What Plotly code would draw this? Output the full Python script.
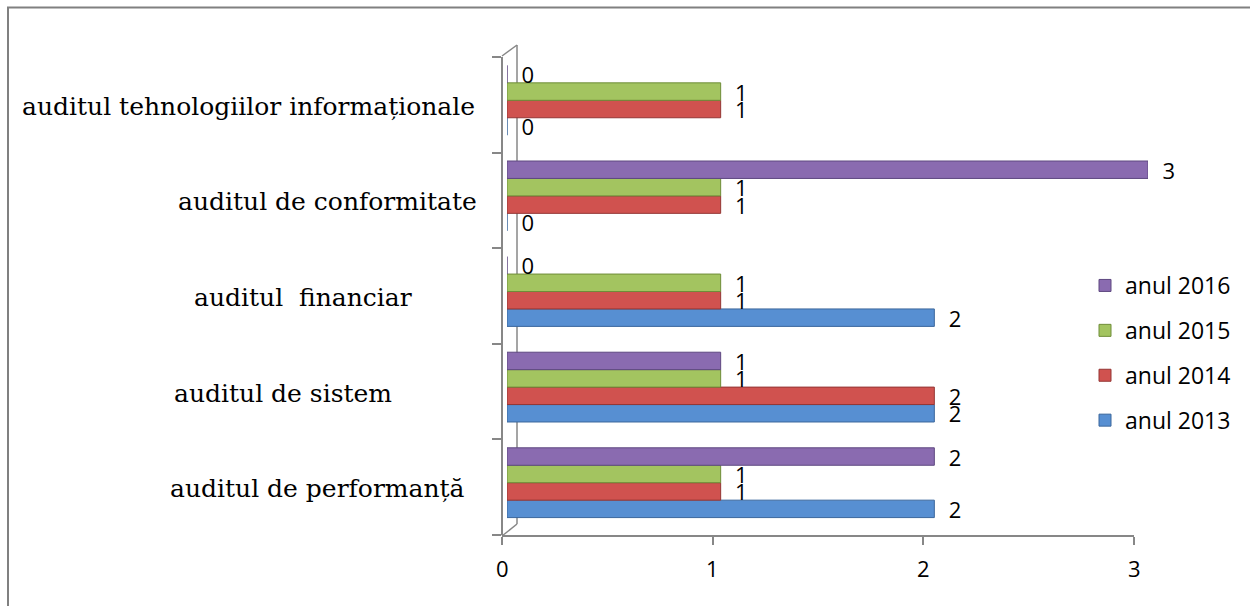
import plotly.graph_objects as go

# Audit missions by type, 2013-2016
categories = [
    "auditul de performanță",
    "auditul de sistem",
    "auditul  financiar",
    "auditul de conformitate",
    "auditul tehnologiilor informaționale",
]
series_names = ["anul 2013", "anul 2014", "anul 2015", "anul 2016"]
values_2013 = [2, 2, 2, 0, 0]
values_2014 = [1, 2, 1, 1, 1]
values_2015 = [1, 1, 1, 1, 1]
values_2016 = [2, 1, 0, 3, 0]
x_ticks = [0, 1, 2, 3]

series_values = [values_2013, values_2014, values_2015, values_2016]
bar_colors = ["#578FD2", "#D0524F", "#A3C460", "#8A6BB0"]
edge_colors = ["#3B679C", "#943634", "#6F8D38", "#5E4880"]

W, H = 1250, 606


def px(x):
    return x / W


def py(y):
    return 1 - y / H


# horizontal centres of the category captions
label_centres = [317, 283, 303, 327, 249]

GRID = "#878787"
TICK_FONT = "Open Sans"
CAT_FONT = "DejaVu Serif"

fig = go.Figure()

for i, (name, vals, col, edge) in enumerate(zip(series_names, series_values,
                                                bar_colors, edge_colors)):
    fig.add_trace(go.Bar(
        y=categories,
        x=vals,
        orientation="h",
        name=name,
        legendgroup=name,
        legendrank=100 - i,
        marker=dict(color=col, line=dict(color=edge, width=1)),
        text=vals,
        texttemplate="\u00a0\u00a0%{x}",
        textposition="outside",
        constraintext="none",
        cliponaxis=False,
        textfont=dict(family=TICK_FONT, size=22, color="#000000"),
        hoverinfo="skip",
    ))

# frame axes (value scale and category boundaries)
fig.add_trace(go.Scatter(x=[None], y=[None], xaxis="x2", yaxis="y2",
                         mode="markers", showlegend=False, hoverinfo="skip"))

fig.update_layout(
    width=W,
    height=H,
    margin=dict(l=0, r=0, t=0, b=0),
    paper_bgcolor="white",
    plot_bgcolor="rgba(0,0,0,0)",
    font=dict(family=TICK_FONT, size=20, color="#000000"),
    barmode="group",
    bargap=0.27,
    bargroupgap=0,
    showlegend=True,
    legend=dict(
        x=px(1085), y=py(264), xanchor="left", yanchor="top",
        traceorder="grouped",
        tracegroupgap=12,
        font=dict(family=TICK_FONT, size=23, color="#000000"),
        bgcolor="rgba(0,0,0,0)",
    ),
    xaxis=dict(
        domain=[px(507), px(1148)], range=[0, 3], visible=False,
        anchor="y", fixedrange=True,
    ),
    yaxis=dict(
        domain=[py(530.5), py(52.5)], range=[-0.5, 4.5], visible=False,
        anchor="x", type="category", fixedrange=True,
    ),
    xaxis2=dict(
        domain=[px(502), px(1134)], range=[0, 3],
        anchor="free", position=py(536),
        tickmode="array", tickvals=x_ticks, showticklabels=False,
        ticks="outside", ticklen=8, tickcolor=GRID, tickwidth=1.5,
        showline=True, linecolor=GRID, linewidth=1.5,
        showgrid=False, zeroline=False,
    ),
    yaxis2=dict(
        domain=[py(535), py(57)], range=[0, 5],
        anchor="free", position=px(502),
        tickmode="array",
        tickvals=[0, 1, 2, 3, 4, 5], showticklabels=False,
        ticks="outside", ticklen=9, tickcolor=GRID, tickwidth=1.5,
        showline=True, linecolor=GRID, linewidth=1.5,
        showgrid=False, zeroline=False,
    ),
)

# value-axis tick labels
for t in x_ticks:
    fig.add_annotation(
        x=t, xref="x2", y=py(568), yref="paper",
        text=str(t), showarrow=False, xanchor="center", yanchor="middle",
        font=dict(family=TICK_FONT, size=22, color="#000000"),
    )

# category captions
for cat, cx in zip(categories, label_centres):
    fig.add_annotation(
        x=px(cx), xref="paper", y=cat, yref="y",
        text=cat.replace("  ", "\u00a0\u00a0"), showarrow=False,
        xanchor="center", yanchor="middle", yshift=-6,
        font=dict(family=CAT_FONT, size=25, color="#000000"),
    )

# side wall of the 3-D plot box
wall = dict(type="line", xref="paper", yref="paper",
            line=dict(color=GRID, width=1.5), layer="below")
fig.add_shape(**wall, x0=px(517), y0=py(45), x1=px(517), y1=py(524))
fig.add_shape(**wall, x0=px(502), y0=py(56), x1=px(517), y1=py(45))
fig.add_shape(**wall, x0=px(502), y0=py(536), x1=px(517), y1=py(524))

# outer chart border
fig.add_shape(type="rect", xref="paper", yref="paper",
              x0=px(8), y0=py(H + 20), x1=px(W + 20), y1=py(7.5),
              line=dict(color="#808080", width=2), fillcolor="rgba(0,0,0,0)")

fig.write_html("out.html")
